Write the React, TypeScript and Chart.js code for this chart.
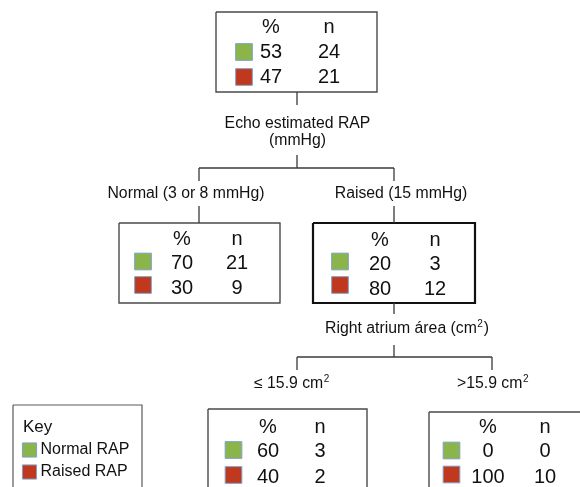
import React, { useEffect, useRef } from "react";
import { Chart, registerables } from "chart.js";

Chart.register(...registerables);

// ---------- DATA ----------
const nodeIds = ["all", "echoNormal", "echoRaised", "raSmall", "raLarge"];
const normalPct = [53, 70, 20, 60, 0];
const raisedPct = [47, 30, 80, 40, 100];
const normalN = [24, 21, 3, 3, 0];
const raisedN = [21, 9, 12, 2, 10];
const columnHeaders = ["%", "n"];
const splitTitles = ["Echo estimated RAP", "(mmHg)", "Right atrium área (cm"];
const branchLabels = ["Normal (3 or 8 mmHg)", "Raised (15 mmHg)", "≤ 15.9 cm", ">15.9 cm"];
const keyTitle = "Key";
const keyLabels = ["Normal RAP", "Raised RAP"];

// ---------- LAYOUT (positions in canvas units) ----------
type Box = { l: number; t: number; r: number; b: number; sq: number; pc: number; nc: number; base: number[]; sy: number[]; thick?: boolean };
const boxes: Box[] = [
  { l: 216, t: 12, r: 377, b: 92, sq: 244, pc: 271, nc: 329, base: [33, 58, 83], sy: [52, 77] },
  { l: 119, t: 223, r: 280, b: 303, sq: 143, pc: 182, nc: 237, base: [245, 269, 294], sy: [261.5, 285] },
  { l: 313, t: 223, r: 475, b: 303, sq: 340, pc: 380, nc: 435, base: [246, 270, 295], sy: [261.5, 285], thick: true },
  { l: 208, t: 409, r: 367, b: 520, sq: 233.5, pc: 268, nc: 320, base: [433, 457, 483], sy: [450, 475] },
  { l: 429, t: 412, r: 592, b: 520, sq: 451.5, pc: 488, nc: 545, base: [433, 457, 483], sy: [450.5, 474.5] },
];
const keyBox = { l: 13, t: 405, r: 142, b: 520 };
const keySq = { x: 29.5, y: [450, 472] };

const segments: number[][] = [
  [297, 92, 297, 105],
  [297, 155, 297, 168],
  [199, 168, 394, 168],
  [199, 168, 199, 181],
  [394, 168, 394, 181],
  [199, 206, 199, 223],
  [394, 206, 394, 223],
  [394, 303, 394, 314],
  [394, 345, 394, 357],
  [297, 357, 492, 357],
  [297, 357, 297, 370],
  [492, 357, 492, 370],
];

const GREEN = "#8bb44a";
const RED = "#c0381e";
const SQ_BORDER = "#7fa3c8";
const FONT = "'Liberation Sans', Arial, Helvetica, sans-serif";

function rectPts(b: { l: number; t: number; r: number; b: number }) {
  return [
    { x: b.l, y: b.t },
    { x: b.r, y: b.t },
    { x: b.r, y: b.b },
    { x: b.l, y: b.b },
    { x: b.l, y: b.t },
  ];
}

export default function App() {
  const ref = useRef<HTMLCanvasElement | null>(null);

  useEffect(() => {
    if (!ref.current) return;

    const datasets: any[] = [];
    segments.forEach((s) =>
      datasets.push({
        data: [{ x: s[0], y: s[1] }, { x: s[2], y: s[3] }],
        showLine: true,
        borderColor: "#3a3a3a",
        borderWidth: 1.3,
        pointRadius: 0,
      })
    );
    boxes.forEach((b) =>
      datasets.push({
        data: rectPts(b),
        showLine: true,
        borderColor: b.thick ? "#111" : "#4a4a4a",
        borderWidth: b.thick ? 2.2 : 1.4,
        pointRadius: 0,
      })
    );
    datasets.push({
      data: rectPts(keyBox),
      showLine: true,
      borderColor: "#5a5a5a",
      borderWidth: 1.2,
      pointRadius: 0,
    });
    // squares
    datasets.push({
      label: keyLabels[0],
      data: [...boxes.map((b) => ({ x: b.sq, y: b.sy[0] })), { x: keySq.x, y: keySq.y[0] }],
      pointStyle: "rect",
      pointRadius: [...boxes.map(() => 11.8), 10],
      backgroundColor: GREEN,
      borderColor: SQ_BORDER,
      borderWidth: 1,
      showLine: false,
    });
    datasets.push({
      label: keyLabels[1],
      data: [...boxes.map((b) => ({ x: b.sq, y: b.sy[1] })), { x: keySq.x, y: keySq.y[1] }],
      pointStyle: "rect",
      pointRadius: [...boxes.map(() => 11.8), 10],
      backgroundColor: RED,
      borderColor: SQ_BORDER,
      borderWidth: 1,
      showLine: false,
    });

    const textPlugin = {
      id: "treeText",
      afterDatasetsDraw(chart: any) {
        const ctx = chart.ctx as CanvasRenderingContext2D;
        const xs = chart.scales.x;
        const ys = chart.scales.y;
        const X = (v: number) => xs.getPixelForValue(v);
        const Y = (v: number) => ys.getPixelForValue(v);
        ctx.save();
        ctx.fillStyle = "#111";
        ctx.textBaseline = "alphabetic";
        const txt = (s: string, x: number, y: number, size: number, align: CanvasTextAlign) => {
          ctx.font = `${size}px ${FONT}`;
          ctx.textAlign = align;
          ctx.fillText(s, X(x), Y(y));
          return ctx.measureText(s).width;
        };
        const sup = (x: number, y: number) => {
          ctx.font = `10px ${FONT}`;
          ctx.textAlign = "left";
          ctx.fillText("2", x + 0.5, Y(y) - 6);
        };

        const NS = 20;
        // node tables
        boxes.forEach((b, i) => {
          txt(columnHeaders[0], b.pc, b.base[0], NS, "center");
          txt(columnHeaders[1], b.nc, b.base[0], NS, "center");
          txt(String(normalPct[i]), b.pc, b.base[1], NS, "center");
          txt(String(normalN[i]), b.nc, b.base[1], NS, "center");
          txt(String(raisedPct[i]), b.pc, b.base[2], NS, "center");
          txt(String(raisedN[i]), b.nc, b.base[2], NS, "center");
        });

        const LS = 15.8;
        // split titles
        txt(splitTitles[0], 297.5, 128, LS, "center");
        txt(splitTitles[1], 297.5, 145, LS, "center");
        // right atrium title with superscript
        const w1 = txt(splitTitles[2], 325, 333, LS, "left");
        sup(X(325) + w1, 333);
        txt(")", 325 + w1 + 7, 333, LS, "left");

        // branch labels
        txt(branchLabels[0], 186, 198, LS, "center");
        txt(branchLabels[1], 401, 198, LS, "center");
        const w2 = txt(branchLabels[2], 254, 388, LS, "left");
        const w3 = txt(branchLabels[3], 457, 388, LS, "left");
        sup(X(254) + w2, 388);
        sup(X(457) + w3, 388);

        // key
        txt(keyTitle, 23, 432, 17, "left");
        txt(keyLabels[0], 40.5, 454, 16, "left");
        txt(keyLabels[1], 40.5, 476, 16, "left");
        ctx.restore();
      },
    };

    const chart = new Chart(ref.current, {
      type: "scatter",
      data: { datasets },
      options: {
        animation: false,
        responsive: false,
        maintainAspectRatio: false,
        layout: { padding: 0, autoPadding: false },
        plugins: { legend: { display: false }, tooltip: { enabled: false } },
        events: [],
        scales: {
          x: { type: "linear", min: 0, max: 580, display: false },
          y: { type: "linear", min: 0, max: 487, reverse: true, display: false },
        },
      },
      plugins: [textPlugin],
    });
    return () => chart.destroy();
  }, []);

  return (
    <div style={{ position: "fixed", left: 0, top: 0, width: 580, height: 487, background: "#fff" }}>
      <canvas ref={ref} width={580} height={487} style={{ display: "block" }} />
    </div>
  );
}
